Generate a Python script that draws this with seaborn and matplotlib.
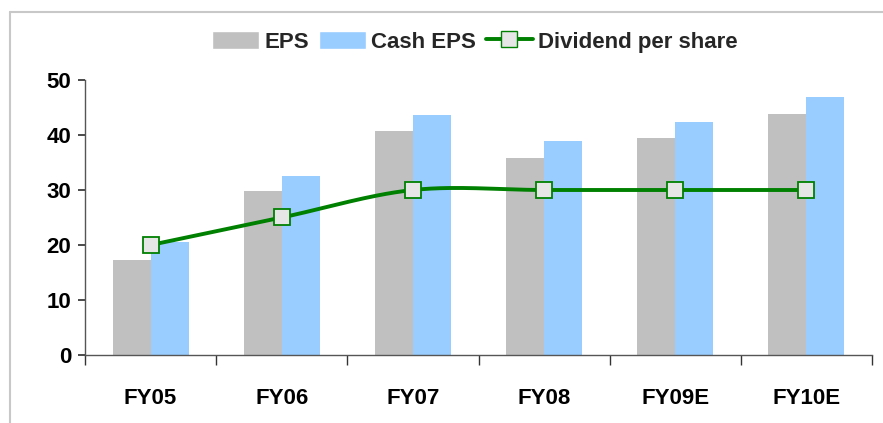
import numpy as np
import pandas as pd
import matplotlib
matplotlib.use("Agg")
import matplotlib.pyplot as plt
from matplotlib.lines import Line2D
from matplotlib.patches import Patch
import seaborn as sns

categories = ["FY05", "FY06", "FY07", "FY08", "FY09E", "FY10E"]
eps = [17.3, 29.8, 40.7, 35.8, 39.5, 43.8]
cash_eps = [20.5, 32.5, 43.6, 38.9, 42.4, 46.9]
dividend = [20, 25, 30, 30, 30, 30]

sns.set_theme(style="white")
plt.rcParams['font.family'] = ['Liberation Sans', 'DejaVu Sans']

df = pd.DataFrame({
    "cat": categories * 2,
    "val": eps + cash_eps,
    "series": ["EPS"] * 6 + ["Cash EPS"] * 6,
})

fig = plt.figure(figsize=(8.83, 4.23), dpi=100)
ax = fig.add_axes([85/883, 1-355/423, (872-85)/883, (355-80)/423])

sns.barplot(data=df, x="cat", y="val", hue="series", order=categories,
            hue_order=["EPS", "Cash EPS"],
            palette={"EPS": "#C0C0C0", "Cash EPS": "#99CCFF"},
            width=0.58, saturation=1, ax=ax, legend=False, linewidth=0)

# smoothed dividend line (Catmull-Rom style rendering of the data points)
x = np.arange(len(dividend), dtype=float)
y = np.array(dividend, dtype=float)
xs, ys = [], []
for i in range(len(x) - 1):
    y0 = y[i-1] if i > 0 else y[i]
    y3 = y[i+2] if i + 2 < len(y) else y[i+1]
    m1 = (y[i+1] - y0) / 2 if i > 0 else (y[i+1] - y[i])
    m2 = (y3 - y[i]) / 2 if i + 2 < len(y) else (y[i+1] - y[i])
    t = np.linspace(0, 1, 30)
    h00 = 2*t**3 - 3*t**2 + 1
    h10 = t**3 - 2*t**2 + t
    h01 = -2*t**3 + 3*t**2
    h11 = t**3 - t**2
    xs.extend(x[i] + t)
    ys.extend(h00*y[i] + h10*m1 + h01*y[i+1] + h11*m2)
ax.plot(xs, ys, color="#008000", lw=2.8, zorder=3)
ax.plot(x, y, ls="none", marker="s", ms=11.5, mfc="#E6E6E6", mec="#008000",
        mew=1.3, zorder=4)

ax.set_xlim(-0.5, 5.5)
ax.set_ylim(0, 50)
ax.set_yticks([0, 10, 20, 30, 40, 50])
ax.set_xlabel("")
ax.set_ylabel("")
for s in ["top", "right"]:
    ax.spines[s].set_visible(False)
for s in ["left", "bottom"]:
    ax.spines[s].set_color("#555555")
    ax.spines[s].set_linewidth(1.0)
ax.set_xticks(np.arange(-0.5, 6.0, 1.0), minor=True)
ax.tick_params(axis="x", which="major", length=0, pad=24)
ax.tick_params(axis="x", which="minor", length=7, color="#333333", direction="out", bottom=True)
ax.tick_params(axis="y", length=5, color="#333333", direction="out", left=True, pad=5)
for lab in ax.get_xticklabels() + ax.get_yticklabels():
    lab.set_fontsize(16)
    lab.set_fontweight("bold")
    lab.set_color("black")

handles = [
    Patch(facecolor="#C0C0C0", label="EPS"),
    Patch(facecolor="#99CCFF", label="Cash EPS"),
    Line2D([0], [0], color="#008000", lw=2.8, marker="s", ms=11,
           mfc="#E6E6E6", mec="#008000", label="Dividend per share"),
]
fig.legend(handles=handles, loc="center", bbox_to_anchor=(475/883, 1-42/423),
           ncol=3, frameon=False, handlelength=2.1, handleheight=0.9,
           handletextpad=0.25, columnspacing=0.45,
           prop={"size": 16, "weight": "bold"})

# outer frame
fig.add_artist(Line2D([10/883, 1], [1-12/423, 1-12/423], color="#C8C8C8", lw=1.5,
                      transform=fig.transFigure))
fig.add_artist(Line2D([10/883, 10/883], [0, 1-12/423], color="#C8C8C8", lw=1.5,
                      transform=fig.transFigure))

fig.savefig("out.png", dpi=100)
